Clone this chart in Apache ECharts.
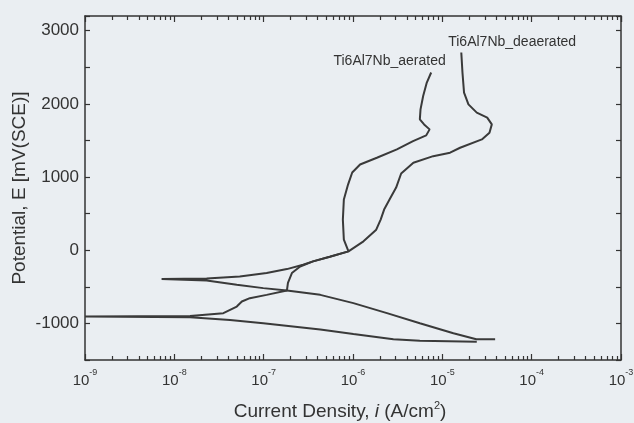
<!DOCTYPE html>
<html>
<head>
<meta charset="utf-8">
<script src="https://cdn.jsdelivr.net/npm/echarts@6/dist/echarts.min.js"></script>
<style>
  html, body { margin: 0; padding: 0; background: #eaeef2; }
  #chart { width: 634px; height: 423px; }
</style>
</head>
<body>
<div id="chart"></div>
<script>
// polarization curves, in sweep order: cathodic branch first, then anodic
// current density in A/cm2, potential in mV(SCE)
const aeratedI = [3.9e-5, 2.4e-5, 1.33e-5, 5.6e-6, 2.4e-6, 1.01e-6, 4.3e-7, 1.82e-7, 9.9e-8, 5.0e-8, 2.3e-8, 7.2e-9,
  2.3e-8, 5.4e-8, 1.08e-7, 1.82e-7, 2.76e-7, 3.57e-7, 5.5e-7, 8.9e-7,
  7.9e-7, 7.7e-7, 7.9e-7, 8.8e-7, 9.8e-7, 1.2e-6, 1.85e-6, 3.1e-6, 4.7e-6, 6.6e-6,
  7.2e-6, 6.25e-6, 5.6e-6, 5.7e-6, 6.1e-6, 6.7e-6, 7.5e-6];
const aeratedE = [-1217, -1217, -1134, -997, -860, -723, -610, -551, -518, -473, -414, -395,
  -388, -359, -312, -258, -199, -153, -89, -16,
  144, 418, 692, 897, 1062, 1171, 1263, 1377, 1491, 1569,
  1651, 1719, 1788, 1925, 2107, 2291, 2428];

const deaeratedI = [2.43e-5, 5.6e-6, 2.83e-6, 1.01e-6, 4.3e-7, 9.9e-8, 4.2e-8, 1.5e-8, 1.0e-9,
  1.5e-8, 3.54e-8, 5.0e-8, 5.7e-8, 7.0e-8, 1.08e-7, 1.82e-7, 1.87e-7, 2.07e-7, 2.56e-7,
  3.57e-7, 5.5e-7, 8.9e-7, 1.31e-6, 1.82e-6, 2.04e-6, 2.23e-6, 2.6e-6, 3.04e-6, 3.46e-6,
  4.74e-6, 7.9e-6, 1.22e-5, 1.58e-5, 2.77e-5, 3.37e-5, 3.58e-5, 3.18e-5, 2.43e-5, 1.96e-5,
  1.75e-5, 1.68e-5, 1.63e-5];
const deaeratedE = [-1249, -1236, -1217, -1144, -1082, -997, -952, -915, -904,
  -900, -860, -770, -701, -655, -610, -551, -445, -312, -222,
  -153, -89, -16, 121, 281, 418, 555, 706, 856, 1048,
  1195, 1285, 1332, 1400, 1514, 1606, 1719, 1811, 1880, 1993,
  2154, 2428, 2702];

// curve labels, anchored in data space [current, potential]
const labelNames = ['Ti6Al7Nb_aerated', 'Ti6Al7Nb_deaerated'];
const labelAnchors = [[2.57e-6, 2582], [6.05e-5, 2843]];

// axes
const decadeExponents = [-9, -8, -7, -6, -5, -4, -3];
const minorMultipliers = [2, 3, 4, 5, 6, 7, 8, 9];
const yLabelValues = [-1000, 0, 1000, 2000, 3000];

const FONT = 'Liberation Sans';
const INK = '#333';
const LINE = '#3a3a3a';

// 2..9 within each decade, for the short log ticks
const minorValues = [];
decadeExponents.slice(0, -1).forEach(e => {
  minorMultipliers.forEach(m => minorValues.push(m * Math.pow(10, e)));
});

const toPairs = (xs, ys) => xs.map((x, k) => [x, ys[k]]);

const frameLine = { show: true, onZero: false, lineStyle: { color: INK, width: 1.5 } };
const majorTick = { show: true, inside: true, length: 6, lineStyle: { color: INK, width: 1.2 } };
const minorTick = { show: true, inside: true, length: 4, customValues: minorValues, lineStyle: { color: INK, width: 1.2 } };

// extra log axis that only carries the minor ticks
const minorAxis = position => ({
  type: 'log', logBase: 10, min: 1e-9, max: 1e-3, position: position,
  axisLine: { show: false, onZero: false },
  axisLabel: { show: false },
  splitLine: { show: false },
  axisTick: minorTick
});

const chart = echarts.init(document.getElementById('chart'));

chart.setOption({
  backgroundColor: '#eaeef2',
  animation: false,
  grid: { left: 85, right: 13, top: 16, bottom: 63, containLabel: false, outerBoundsMode: 'none' },
  xAxis: [
    {
      type: 'log', logBase: 10, min: 1e-9, max: 1e-3, position: 'bottom',
      axisLine: frameLine,
      axisTick: majorTick,
      splitLine: { show: false },
      axisLabel: {
        margin: 8,
        formatter: v => '{b|10}{s|' + Math.round(Math.log10(v)) + '}',
        rich: {
          b: { fontFamily: FONT, fontSize: 15, color: INK, lineHeight: 20, verticalAlign: 'bottom' },
          s: { fontFamily: FONT, fontSize: 9, color: INK, verticalAlign: 'top' }
        }
      },
      name: 'Current Density, {i|i} (A/cm{s|2})',
      nameLocation: 'middle',
      nameGap: 40,
      nameTextStyle: {
        fontFamily: FONT, fontSize: 19, color: INK, lineHeight: 24,
        padding: [0, 26, 0, 0],
        rich: {
          i: { fontFamily: FONT, fontSize: 19, color: INK, fontStyle: 'italic' },
          s: { fontFamily: FONT, fontSize: 11, color: INK, verticalAlign: 'top' }
        }
      }
    },
    minorAxis('bottom'),
    {
      type: 'log', logBase: 10, min: 1e-9, max: 1e-3, position: 'top',
      axisLine: frameLine,
      axisTick: majorTick,
      axisLabel: { show: false },
      splitLine: { show: false }
    },
    minorAxis('top')
  ],
  yAxis: [
    {
      type: 'value', min: -1500, max: 3200, interval: 500, position: 'left',
      axisLine: frameLine,
      axisTick: { show: true, inside: true, length: 5, lineStyle: { color: INK, width: 1.2 } },
      splitLine: { show: false },
      axisLabel: {
        margin: 6, fontFamily: FONT, fontSize: 17, color: INK,
        formatter: v => (yLabelValues.indexOf(v) >= 0 ? String(v) : '')
      },
      name: 'Potential, E [mV(SCE)]',
      nameLocation: 'middle',
      nameGap: 56,
      nameMoveOverlap: false,
      nameTextStyle: { fontFamily: FONT, fontSize: 19, color: INK }
    },
    {
      type: 'value', min: -1500, max: 3200, interval: 500, position: 'right',
      axisLine: frameLine,
      axisTick: { show: true, inside: true, length: 5, lineStyle: { color: INK, width: 1.2 } },
      axisLabel: { show: false },
      splitLine: { show: false }
    }
  ],
  series: [
    {
      name: labelNames[0],
      type: 'line',
      xAxisIndex: 0, yAxisIndex: 0,
      data: toPairs(aeratedI, aeratedE),
      showSymbol: false,
      lineStyle: { color: LINE, width: 2 },
      markPoint: {
        symbol: 'circle', symbolSize: 0,
        label: { show: true, position: 'inside', fontFamily: FONT, fontSize: 14, color: INK, formatter: labelNames[0] },
        data: [{ coord: labelAnchors[0] }]
      }
    },
    {
      name: labelNames[1],
      type: 'line',
      xAxisIndex: 0, yAxisIndex: 0,
      data: toPairs(deaeratedI, deaeratedE),
      showSymbol: false,
      lineStyle: { color: LINE, width: 2 },
      markPoint: {
        symbol: 'circle', symbolSize: 0,
        label: { show: true, position: 'inside', fontFamily: FONT, fontSize: 14, color: INK, formatter: labelNames[1] },
        data: [{ coord: labelAnchors[1] }]
      }
    }
  ]
});
</script>
</body>
</html>
